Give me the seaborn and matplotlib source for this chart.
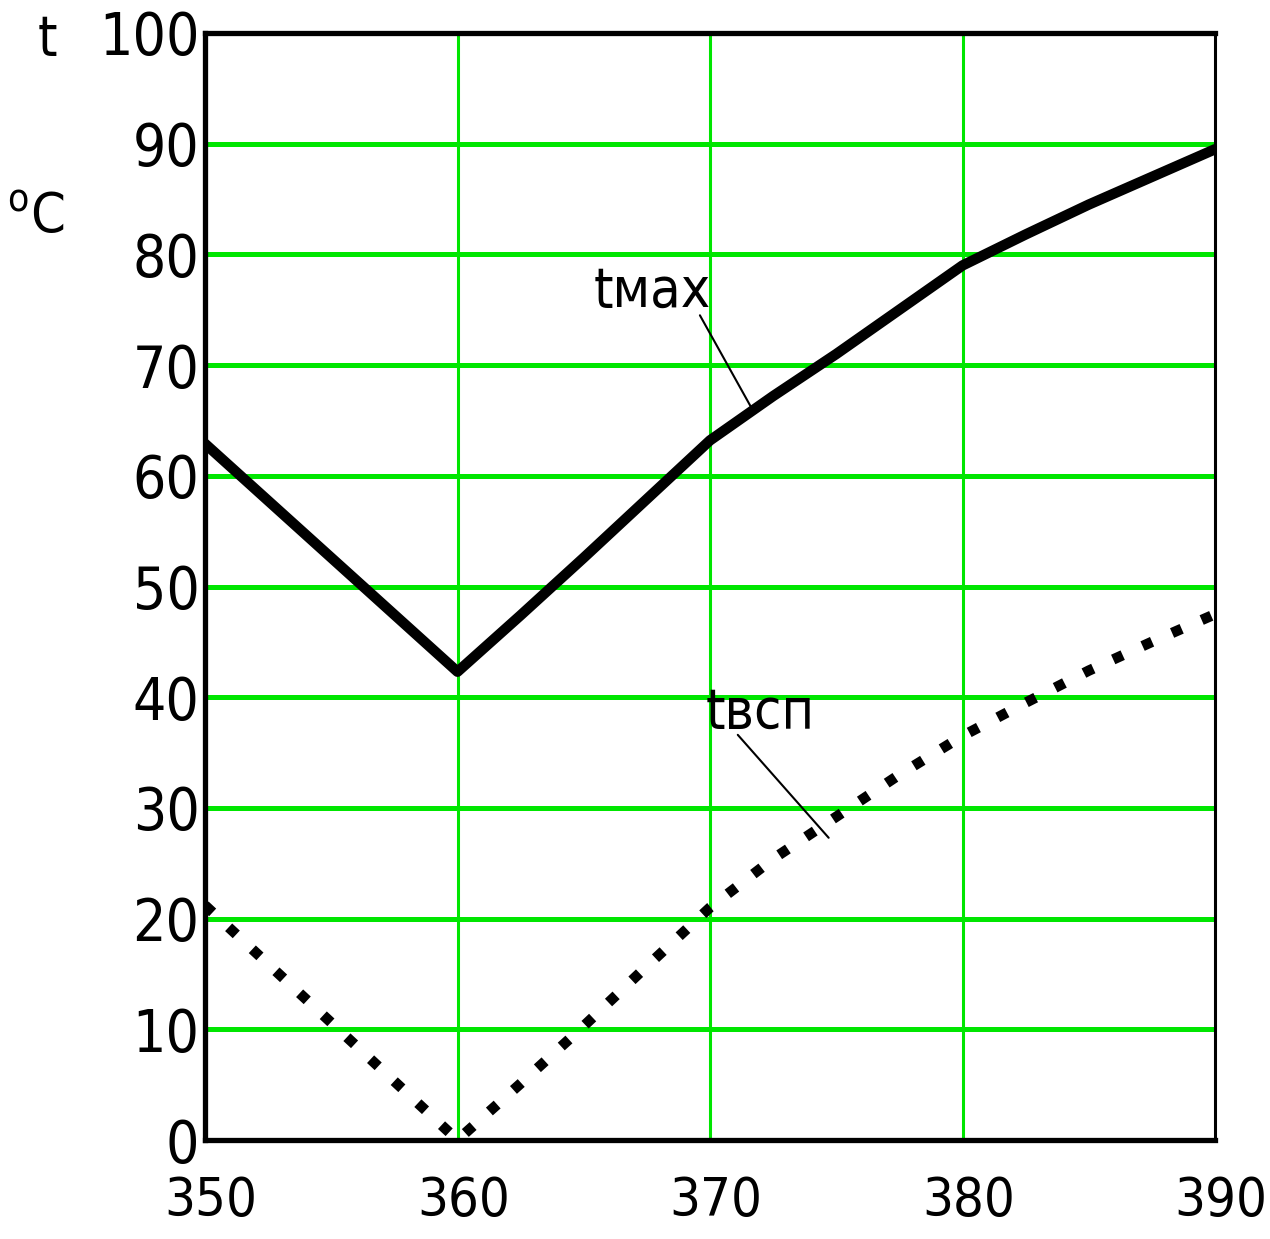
import matplotlib
matplotlib.use("Agg")
import matplotlib.pyplot as plt
import matplotlib.transforms as mtransforms
import seaborn as sns
import pandas as pd

x_vals = [350, 355, 360, 362.5, 365, 367.5, 370, 372.5, 375, 377.5, 380, 382.5, 385, 387.5, 390]
t_max = [62.9, 52.6, 42.3, 47.4, 52.6, 57.9, 63.2, 67.2, 71.0, 75.0, 79.0, 81.8, 84.5, 87.0, 89.5]
t_vsp = [21.2, 10.6, 0.0, 5.1, 10.3, 15.7, 21.0, 25.4, 29.2, 33.0, 36.5, 39.5, 42.4, 45.0, 47.5]
x_ticks = [350, 360, 370, 380, 390]
y_ticks = [0, 10, 20, 30, 40, 50, 60, 70, 80, 90, 100]

sns.set_style("white")
FONT = ['DejaVu Sans']
plt.rcParams['font.family'] = FONT
plt.rcParams['font.stretch'] = 'condensed'
plt.rcParams['text.color'] = 'black'
plt.rcParams['xtick.color'] = 'black'
plt.rcParams['ytick.color'] = 'black'

df = pd.DataFrame({"x": x_vals, "tmax": t_max, "tvsp": t_vsp})

fig = plt.figure(figsize=(12.70, 12.39), dpi=100)
ax = fig.add_axes([205/1270, 1 - 1140/1239, 1010/1270, 1107/1239])

GREEN = '#00e600'
for yv in y_ticks[1:-1]:
    ax.axhline(yv, color=GREEN, lw=3.6, zorder=1)
for xv in x_ticks[1:-1]:
    ax.axvline(xv, color=GREEN, lw=2.2, zorder=1)

sns.lineplot(data=df, x="x", y="tmax", ax=ax, color='black', lw=7.5, zorder=3)
sns.lineplot(data=df, x="x", y="tvsp", ax=ax, color='black', lw=7.5,
             linestyle=(0, (1, 2.1)), dash_capstyle='butt', zorder=3)

ax.set_xlim(350, 390)
ax.set_ylim(0, 100)
ax.set_xticks(x_ticks)
ax.set_yticks(y_ticks)
ax.set_xticklabels([str(v) for v in x_ticks])
ax.set_yticklabels([str(v) for v in y_ticks])
ax.tick_params(axis='y', length=0, labelsize=42, pad=4)
ax.tick_params(axis='x', length=0, labelsize=39, pad=25)
shift = mtransforms.ScaledTranslation(6/100, 0, fig.dpi_scale_trans)
for lab in ax.get_xticklabels():
    lab.set_transform(lab.get_transform() + shift)
ax.set_xlabel("")
ax.set_ylabel("")

for side in ['left', 'bottom', 'top']:
    ax.spines[side].set_linewidth(3.8)
    ax.spines[side].set_color('black')
ax.spines['right'].set_linewidth(2.2)
ax.spines['right'].set_color('black')

# annotations: labels and leader lines
ax.text(367.7, 75.3, "tмах", fontsize=40, ha='center', va='baseline')
ax.annotate("", xy=(371.7, 65.9), xytext=(369.6, 74.5),
            arrowprops=dict(arrowstyle='-', color='black', lw=1.5, shrinkA=0, shrinkB=0))
ax.text(372.0, 37.2, "tвсп", fontsize=40, ha='center', va='baseline')
ax.annotate("", xy=(374.7, 27.3), xytext=(371.1, 36.6),
            arrowprops=dict(arrowstyle='-', color='black', lw=1.5, shrinkA=0, shrinkB=0))

fig.text(47/1270, 1 - 55/1239, "t", fontsize=40, ha='center', va='baseline')
fig.text(36/1270, 1 - 233/1239, "$^{\\mathrm{o}}$C", fontsize=40, ha='center', va='baseline')

fig.savefig("out.png", dpi=100, facecolor='white')
